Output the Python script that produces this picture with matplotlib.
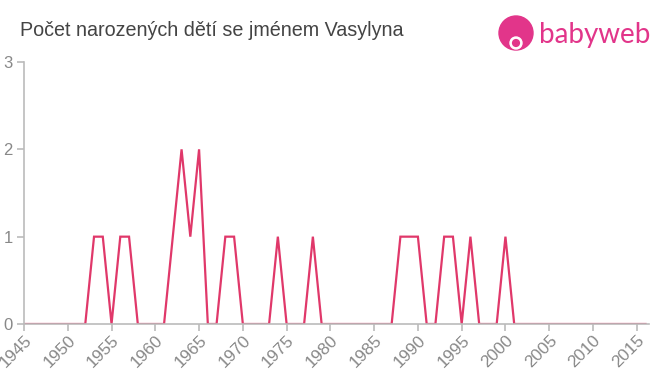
import matplotlib
matplotlib.use("Agg")
import matplotlib.pyplot as plt
from matplotlib.patches import Circle

years = list(range(1945, 2017))
counts = [0]*len(years)
nonzero = {1953: 1, 1954: 1, 1956: 1, 1957: 1, 1962: 1, 1963: 2, 1964: 1, 1965: 2,
           1968: 1, 1969: 1, 1974: 1, 1978: 1, 1988: 1, 1989: 1, 1990: 1,
           1993: 1, 1994: 1, 1996: 1, 2000: 1}
for y, v in nonzero.items():
    counts[years.index(y)] = v

xticks = list(range(1945, 2020, 5))
yticks = [0, 1, 2, 3]
title = "Počet narozených dětí se jménem Vasylyna"

plt.rcParams['font.family'] = ['Liberation Sans', 'DejaVu Sans']

fig = plt.figure(figsize=(6.6, 3.75), dpi=100)
ax = fig.add_axes([24/660, 1-324/375, (649-24)/660, (324-62)/375])
ax.plot(years, counts, color='#e0386a', linewidth=1.6, solid_joinstyle='miter')
ax.set_xlim(1945, 2016.4)
ax.set_ylim(0, 3)
ax.set_xticks(xticks)
ax.set_xticklabels([str(t) for t in xticks], rotation=45, ha='right', va='top',
                   rotation_mode='anchor')
ax.set_yticks(yticks)
for s in ['top', 'right']:
    ax.spines[s].set_visible(False)
for s in ['left', 'bottom']:
    ax.spines[s].set_color('#bbbbbb')
    ax.spines[s].set_linewidth(1.2)
ax.tick_params(axis='both', colors='#bbbbbb', labelcolor='#888888', labelsize=12.3,
               length=5, width=1.2)
ax.tick_params(axis='y', labelsize=12, pad=3)
ax.tick_params(axis='x', pad=1)
ax.set_facecolor('white')

fig.text(20/660, 1-30/375, title, fontsize=14.2, color='#444444', va='center', ha='left')

# logo
lax = fig.add_axes([496/660, 1-54/375, 40/660, 40/375])
lax.set_xlim(-1, 1)
lax.set_ylim(-1, 1)
lax.set_aspect('equal')
lax.axis('off')
lax.add_patch(Circle((0, 0.05), 0.85, color='#e2358a'))
lax.add_patch(Circle((0, -0.45), 0.3, color='white'))
lax.add_patch(Circle((0, -0.45), 0.17, color='#e2358a'))
fig.text(539/660, 1-35/375, "babyweb", fontsize=20, color='#e2358a', va='center', ha='left',
         family=['Lato', 'DejaVu Sans'])

fig.savefig('out.png', dpi=100, facecolor='white')
